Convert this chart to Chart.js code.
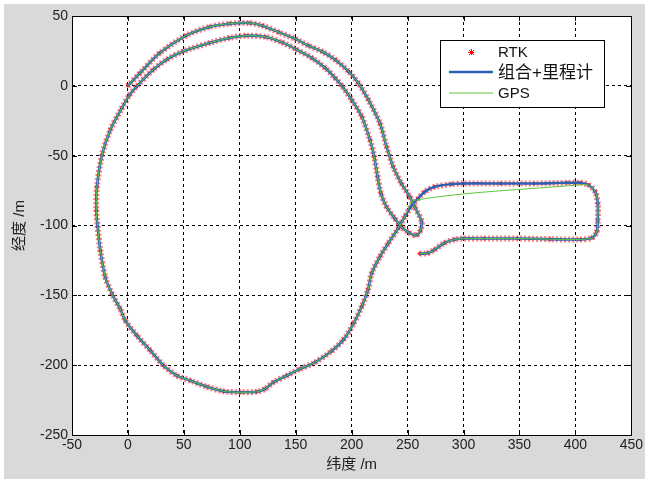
<!DOCTYPE html>
<html>
<head>
<meta charset="utf-8">
<script src="https://cdn.jsdelivr.net/npm/chart.js@4.4.0/dist/chart.umd.min.js"></script>
<style>
html, body { margin: 0; padding: 0; background: #fff; }
#wrap { width: 645px; height: 479px; }
</style>
</head>
<body>
<div id="wrap"><canvas id="grafico" width="645" height="479"></canvas></div>
<script>
// Trayectoria (纬度 / 经度 en metros)
// desde el gancho inferior derecho hasta el origen (0,0)
const trackX = [260.8, 268.2, 274, 283, 292, 300, 318.6, 348, 377.7, 404.3, 414.7, 419, 420, 420, 417.7, 411.8,
  404.3, 392.5, 363, 333.3, 300, 289, 274.2, 265.3, 259.3, 254.9,
  248, 241.6, 232.8, 225.5, 218, 214.6, 209, 201.8, 192.7, 181.8, 167.2, 153.8, 142, 130, 122.6, 115.2,
  100.3, 85.4, 70.5, 55.6, 43.8, 31.8, 20, 8, -2.4, -6.9, -14.3, -20.3, -24.7, -27.1, -28.3, -27.7,
  -23.2, -15.8, -5.5, 1, 7.7, 22.5, 35, 49.1, 72.8, 90.6, 105.4, 123.2, 137.9, 149.8, 164.6, 176.5,
  185.3, 191.2, 200, 209, 216.4, 220.2, 223.2, 226.2, 231.2, 238.6, 244.5, 251, 257.5, 261.5, 262.5,
  256.4, 252, 244.5, 237.1, 231.2, 225.3, 215, 206, 197.2, 185.3, 173.5, 161.6, 149.8, 135, 120.2,
  108.4, 90.6, 72.8, 52, 28.4, 10.7, 0];
const trackY = [-120.2, -119.7, -117.3, -112.5, -110, -109.3, -109.3, -109.3, -109.8, -110, -108.9, -104.6, -96.2, -84.2, -75.9, -71,
  -69.4, -69.4, -69.9, -69.9, -69.9, -70.4, -72.3, -75.9, -80.7, -84.3,
  -93, -102, -112.6, -122, -134, -146, -158, -170, -181.7, -190, -198, -202.7, -207.5, -212.3, -217, -219,
  -219.4, -218.7, -215.4, -211, -207.5, -200.3, -189.5, -178.8, -168, -159.7, -148.9, -136.9, -117.8, -100.6, -89.1, -72.3,
  -49.6, -31.6, -16, -7, -0.5, 11.5, 19, 24.6, 30.7, 34.3, 35.9, 35, 31.1, 26.4, 19.9, 12.7,
  5.5, 0, -10, -22, -38.8, -50.8, -65.2, -77.1, -86.7, -95, -101, -105, -107, -103.5, -97,
  -86.7, -79.5, -70, -58, -43.6, -26.8, -10, 1.9, 10.3, 18.7, 24.6, 28.7, 33.5, 38.3, 43.1,
  45, 44.5, 42.2, 36, 23.5, 9.1, 0];

// GPS: sin datos en el tramo superior del rectángulo, queda una recta
const gpsX = trackX.slice(0, 16).concat([402, 256], trackX.slice(26));
const gpsY = trackY.slice(0, 16).concat([-71, -82], trackY.slice(26));

const xTicks = { min: -50, max: 450, step: 50 };
const yTicks = { min: -250, max: 50, step: 50 };

const etiquetas = ['RTK', '组合+里程计', 'GPS'];

function puntos(xs, ys) {
  return xs.map((x, i) => ({ x: x, y: ys[i] }));
}

const fuente = "'Liberation Sans', Arial, sans-serif";
const fuenteCJK = "'Liberation Sans', Arial, 'Noto Sans CJK SC', sans-serif";

const fondo = {
  id: 'fondo',
  beforeDraw(chart) {
    const { ctx, width, height, chartArea: a } = chart;
    ctx.save();
    ctx.fillStyle = '#fff';
    ctx.fillRect(0, 0, width, height);
    ctx.fillStyle = '#d9d9d9';
    ctx.fillRect(4, 4, width - 4, height - 4);
    ctx.fillStyle = '#fff';
    ctx.fillRect(a.left, a.top, a.right - a.left, a.bottom - a.top);
    ctx.restore();
  }
};

const marco = {
  id: 'marco',
  afterDatasetsDraw(chart) {
    const { ctx, chartArea: a, scales } = chart;
    ctx.save();
    ctx.strokeStyle = '#000';
    ctx.lineWidth = 1;
    ctx.beginPath();
    scales.x.ticks.forEach(t => {
      const px = Math.round(scales.x.getPixelForValue(t.value)) + 0.5;
      ctx.moveTo(px, a.bottom); ctx.lineTo(px, a.bottom - 5);
      ctx.moveTo(px, a.top); ctx.lineTo(px, a.top + 5);
    });
    scales.y.ticks.forEach(t => {
      const py = Math.round(scales.y.getPixelForValue(t.value)) + 0.5;
      ctx.moveTo(a.left, py); ctx.lineTo(a.left + 5, py);
      ctx.moveTo(a.right, py); ctx.lineTo(a.right - 5, py);
    });
    ctx.stroke();
    ctx.strokeRect(Math.round(a.left) + 0.5, Math.round(a.top) + 0.5,
      Math.round(a.right - a.left), Math.round(a.bottom - a.top));
    ctx.restore();
  }
};

const leyenda = {
  id: 'leyenda',
  afterDraw(chart) {
    const ctx = chart.ctx;
    const ds = chart.data.datasets;
    const bx = 440, by = 40, bw = 164, bh = 67;
    ctx.save();
    ctx.fillStyle = '#fff';
    ctx.fillRect(bx, by, bw, bh);
    ctx.strokeStyle = '#000';
    ctx.lineWidth = 1;
    ctx.strokeRect(bx + 0.5, by + 0.5, bw, bh);
    const filas = [52, 72, 93];
    // RTK: marcador
    ctx.strokeStyle = '#ff0000';
    ctx.beginPath();
    ctx.moveTo(468, 52.5); ctx.lineTo(474, 52.5);
    ctx.moveTo(471.5, 49); ctx.lineTo(471.5, 55);
    ctx.moveTo(469, 50); ctx.lineTo(474, 55);
    ctx.moveTo(474, 50); ctx.lineTo(469, 55);
    ctx.stroke();
    // lineas
    ctx.strokeStyle = ds[1].borderColor;
    ctx.lineWidth = 2.5;
    ctx.beginPath(); ctx.moveTo(449, filas[1]); ctx.lineTo(493, filas[1]); ctx.stroke();
    ctx.strokeStyle = ds[2].borderColor;
    ctx.lineWidth = 1.2;
    ctx.beginPath(); ctx.moveTo(449, filas[2]); ctx.lineTo(493, filas[2]); ctx.stroke();
    ctx.fillStyle = '#111';
    ctx.textBaseline = 'middle';
    ctx.textAlign = 'left';
    ds.forEach((d, i) => {
      ctx.font = (i === 1 ? '17px ' : '15px ') + fuenteCJK;
      ctx.fillText(d.label, 498, filas[i] + 1);
    });
    ctx.restore();
  }
};

const ctx = document.getElementById('grafico');

let grafico = new Chart(ctx, {
  type: 'scatter',
  data: {
    datasets: [{
      label: etiquetas[0],
      data: puntos(trackX, trackY),
      showLine: true,
      borderColor: 'rgba(255, 40, 40, 0.6)',
      borderWidth: 6,
      borderDash: [2, 2],
      tension: 0.3,
      pointStyle: 'star',
      pointRadius: 2,
      pointBorderColor: '#ff0000',
      pointBackgroundColor: '#ff0000',
      pointBorderWidth: 1,
      order: 3
    }, {
      label: etiquetas[1],
      data: puntos(trackX, trackY),
      showLine: true,
      borderColor: '#2f5fb3',
      borderWidth: 2.6,
      tension: 0.3,
      pointRadius: 0,
      order: 2
    }, {
      label: etiquetas[2],
      data: puntos(gpsX, gpsY),
      showLine: true,
      borderColor: '#5cc83a',
      borderWidth: 1,
      tension: 0.3,
      pointRadius: 0,
      order: 1
    }]
  },
  options: {
    responsive: false,
    animation: false,
    events: [],
    layout: { padding: { top: 16, right: 10, bottom: 0, left: 0 } },
    plugins: {
      legend: { display: false },
      tooltip: { enabled: false }
    },
    scales: {
      x: {
        type: 'linear',
        min: xTicks.min,
        max: xTicks.max,
        ticks: {
          stepSize: xTicks.step,
          color: '#222',
          font: { family: fuente, size: 14 },
          padding: 2,
          maxRotation: 0,
          autoSkip: false
        },
        grid: { color: '#000', lineWidth: 1, drawTicks: false },
        border: { display: false, dash: [3, 3] },
        title: {
          display: true,
          text: '纬度 /m',
          color: '#222',
          font: { family: fuenteCJK, size: 15 },
          padding: { top: 0, bottom: 5 }
        },
        afterFit(s) { s.height = 44; }
      },
      y: {
        type: 'linear',
        min: yTicks.min,
        max: yTicks.max,
        ticks: {
          stepSize: yTicks.step,
          color: '#222',
          font: { family: fuente, size: 14 },
          padding: 4
        },
        grid: { color: '#000', lineWidth: 1, drawTicks: false },
        border: { display: false, dash: [3, 3] },
        title: {
          display: true,
          text: '经度 /m',
          color: '#222',
          font: { family: fuenteCJK, size: 15 },
          padding: { top: 11, bottom: 0 }
        },
        afterFit(s) { s.width = 72; }
      }
    }
  },
  plugins: [fondo, marco, leyenda]
});
</script>
</body>
</html>
